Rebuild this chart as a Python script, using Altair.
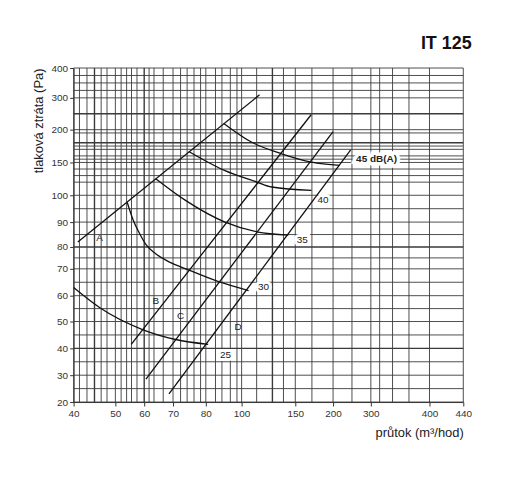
import altair as alt
import pandas as pd

# ---- axis ticks (irregular, piecewise scale as in the original nomogram)
x_ticks = [40, 50, 60, 70, 80, 100, 150, 200, 300, 400, 440]
y_ticks = [20, 30, 40, 50, 60, 70, 80, 90, 100, 150, 200, 300, 400]

# ---- grid lines (data units)
x_grid = [40, 41.4, 43.2, 46.6, 48, 50, 52, 53.9, 55.6, 57.5, 61.7, 63.4, 66.6, 70,
          72.3, 74.3, 76.4, 78.4, 80, 85.4, 89, 93.7, 97.4, 100, 114, 139, 150,
          172, 200, 250, 300, 315, 337, 365, 400, 440]
x_grid_thick = [45, 60, 128.7]
y_grid = [20, 25, 30, 35, 45, 50, 55, 60, 65, 70, 75, 85, 90, 95, 100, 120, 130,
          140, 150, 155, 160, 170, 175, 195, 200, 300, 325, 350, 375, 400]
y_grid_thick = [40, 80, 180, 250]

# ---- system lines A-D
line_A_x = [41, 116.7];  line_A_y = [82, 310]
line_B_x = [55.5, 171];  line_B_y = [41.5, 246.9]
line_C_x = [60.6, 200];  line_C_y = [28.5, 197]
line_D_x = [68.6, 246.6]; line_D_y = [23, 169.2]

# ---- noise curves dB(A)
c25_x = [40, 46.2, 59.4, 70.8, 81.3];          c25_y = [63, 55.4, 47, 43.3, 41.5]
c30_x = [54.1, 56.2, 58.3, 60.7, 64.1, 68.6, 73.9, 87.2, 106.5]
c30_y = [97.4, 90.7, 85.6, 80.8, 76.8, 73.2, 70, 65.2, 61.9]
c35_x = [64, 73.8, 90.4, 114.2, 143.5];        c35_y = [125.3, 98.1, 90.1, 86.1, 84.8]
c40_x = [74.8, 90.4, 114.2, 128, 171.5];       c40_y = [166.7, 137.9, 120.2, 112.6, 107.6]
c45_x = [90, 109.5, 137.3, 171.6, 217.9];      c45_y = [219.7, 180.8, 163.2, 150.5, 145.5]

# ---- labels
letter_text = ["A", "B", "C", "D"]
letter_x = [46.2, 64, 72.3, 98]
letter_y = [83.6, 58, 52, 47.8]
db_text = ["25", "30", "35", "40"]
db_x = [91, 120.4, 159.2, 186.8]
db_y = [37.4, 63.3, 82.8, 98.1]
db45_text = ["45 dB(A)"]
db45_x = [261]
db45_y = [155.6]

FONT = "Liberation Sans"

xscale = alt.Scale(domain=x_ticks,
                   range=[0, 42, 71, 100, 133, 169, 223, 261, 299, 358, 392],
                   zero=False, nice=False)
yscale = alt.Scale(domain=y_ticks,
                   range=[336, 309, 282, 255, 229, 202, 180, 155, 128, 95, 62, 30, 0],
                   zero=False, nice=False)

xaxis = alt.Axis(values=x_ticks, title="průtok (m³/hod)", grid=False,
                 titleAnchor="end", labelFlush=False, tickSize=4,
                 labelOverlap=False, labelPadding=3, titlePadding=8)
yaxis = alt.Axis(values=y_ticks, title="tlaková ztráta (Pa)", grid=False,
                 titleAnchor="end", labelFlush=False, tickSize=4,
                 labelOverlap=False, labelPadding=2, titlePadding=6)

rows = []
for name, xs, ys in [("A", line_A_x, line_A_y), ("B", line_B_x, line_B_y),
                     ("C", line_C_x, line_C_y), ("D", line_D_x, line_D_y),
                     ("25", c25_x, c25_y), ("30", c30_x, c30_y), ("35", c35_x, c35_y),
                     ("40", c40_x, c40_y), ("45", c45_x, c45_y)]:
    for i, (a, b) in enumerate(zip(xs, ys)):
        rows.append({"s": name, "i": i, "q": a, "p": b})
curves = pd.DataFrame(rows)

xg = pd.DataFrame({"q": x_grid})
xgt = pd.DataFrame({"q": x_grid_thick})
yg = pd.DataFrame({"p": y_grid})
ygt = pd.DataFrame({"p": y_grid_thick})

gcol = "#3a3a3a"
vgrid = alt.Chart(xg).mark_rule(color=gcol, strokeWidth=0.9).encode(
    x=alt.X("q:Q", scale=xscale, axis=xaxis))
vgridt = alt.Chart(xgt).mark_rule(color=gcol, strokeWidth=1.4).encode(
    x=alt.X("q:Q", scale=xscale, axis=xaxis))
hgrid = alt.Chart(yg).mark_rule(color=gcol, strokeWidth=0.9).encode(
    y=alt.Y("p:Q", scale=yscale, axis=yaxis))
hgridt = alt.Chart(ygt).mark_rule(color=gcol, strokeWidth=1.4).encode(
    y=alt.Y("p:Q", scale=yscale, axis=yaxis))

lines = alt.Chart(curves).mark_line(color="#111", strokeWidth=1.3,
                                    interpolate="monotone").encode(
    x=alt.X("q:Q", scale=xscale, axis=xaxis),
    y=alt.Y("p:Q", scale=yscale, axis=yaxis),
    detail="s:N",
    order="i:Q",
)

ldf = pd.DataFrame({"t": letter_text, "q": letter_x, "p": letter_y})
letters = alt.Chart(ldf).mark_text(font=FONT, fontSize=10, color="#222").encode(
    x=alt.X("q:Q", scale=xscale, axis=xaxis), y=alt.Y("p:Q", scale=yscale, axis=yaxis),
    text="t:N")

ddf = pd.DataFrame({"t": db_text, "q": db_x, "p": db_y})
db_halo = alt.Chart(ddf).mark_text(font=FONT, fontSize=10, color="white",
                                   stroke="white", strokeWidth=6).encode(
    x=alt.X("q:Q", scale=xscale, axis=xaxis), y=alt.Y("p:Q", scale=yscale, axis=yaxis),
    text="t:N")
db_lab = alt.Chart(ddf).mark_text(font=FONT, fontSize=10, color="#222").encode(
    x=alt.X("q:Q", scale=xscale, axis=xaxis), y=alt.Y("p:Q", scale=yscale, axis=yaxis),
    text="t:N")

d45 = pd.DataFrame({"t": db45_text, "q": db45_x, "p": db45_y})
d45_halo = alt.Chart(d45).mark_text(font=FONT, fontSize=10, fontWeight="bold",
                                    align="left", color="white", stroke="white",
                                    strokeWidth=7).encode(
    x=alt.X("q:Q", scale=xscale, axis=xaxis), y=alt.Y("p:Q", scale=yscale, axis=yaxis),
    text="t:N")
d45_lab = alt.Chart(d45).mark_text(font=FONT, fontSize=10, fontWeight="bold",
                                   align="left", color="#222").encode(
    x=alt.X("q:Q", scale=xscale, axis=xaxis), y=alt.Y("p:Q", scale=yscale, axis=yaxis),
    text="t:N")

chart = alt.layer(
    vgrid, vgridt, hgrid, hgridt, lines, letters, db_halo, db_lab, d45_halo, d45_lab
).properties(
    width=392, height=336,
    title=alt.TitleParams("IT 125", anchor="end", font=FONT, fontSize=18,
                          fontWeight="bold", color="#111", offset=10),
    autosize=alt.AutoSizeParams(type="none"),
    padding={"left": 66, "top": 59, "right": 50, "bottom": 70},
).configure_view(stroke=None).configure_axis(
    labelFont=FONT, labelFontSize=10, labelColor="#333", labelOverlap=False,
    titleFont=FONT, titleFontSize=13, titleFontWeight="normal", titleColor="#222",
    domainColor="#333", tickColor="#333",
)

chart.save("out.html", embed_options={"renderer": "svg", "actions": False})
